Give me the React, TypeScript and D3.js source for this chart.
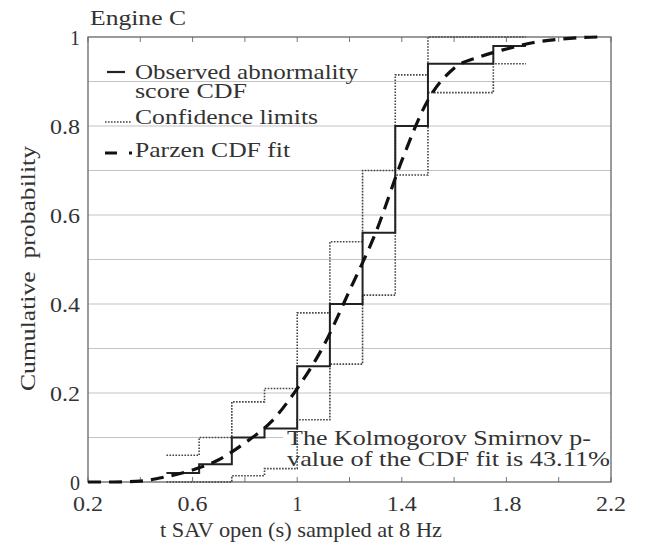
import React from 'react';
import * as d3 from 'd3';

// step edges of the observed CDF (8 Hz sampling)
const stepEdges = [0.5, 0.625, 0.75, 0.875, 1.0, 1.125, 1.25, 1.375, 1.5, 1.75, 1.875];
const observedCdf = [0.02, 0.04, 0.1, 0.12, 0.26, 0.4, 0.56, 0.8, 0.94, 0.98];
const upperLimit = [0.06, 0.1, 0.18, 0.21, 0.38, 0.54, 0.7, 0.915, 1.0, 1.0];
const lowerLimit = [0.0, 0.0, 0.014, 0.03, 0.14, 0.265, 0.42, 0.69, 0.875, 0.94];

// Parzen CDF fit
const parzenX = [0.2, 0.3, 0.4, 0.5, 0.6, 0.7, 0.8, 0.9, 1.0, 1.1, 1.2, 1.3, 1.4, 1.5, 1.6, 1.7, 1.8, 1.9, 2.0, 2.1, 2.15];
const parzenY = [0, 0, 0.002, 0.012, 0.027, 0.05, 0.088, 0.135, 0.21, 0.305, 0.43, 0.56, 0.722, 0.858, 0.93, 0.956, 0.973, 0.987, 0.995, 0.999, 1.0];

const xTicks = [0.2, 0.4, 0.6, 0.8, 1.0, 1.2, 1.4, 1.6, 1.8, 2.0, 2.2];
const xTickLabels = ['0.2', '0.6', '1', '1.4', '1.8', '2.2'];
const yGrid = [0.1, 0.2, 0.3, 0.4, 0.5, 0.6, 0.7, 0.8, 0.9];
const yTickLabels = ['0', '0.2', '0.4', '0.6', '0.8', '1'];

const font = '"Liberation Serif", "Times New Roman", serif';

// the original picture is stretched sideways a little, so long texts get a fixed length
const Txt = ({ w, children, ...rest }) => (
  <text fontSize={22} fill="#333" textLength={w} lengthAdjust="spacingAndGlyphs" {...rest}>
    {children}
  </text>
);

const App = () => {
  const width = 646;
  const height = 545;
  const margin = { top: 37, right: 35, bottom: 63, left: 88 };

  const x = d3.scaleLinear().domain([0.2, 2.2]).range([margin.left, width - margin.right]);
  const y = d3.scaleLinear().domain([0, 1]).range([height - margin.bottom, margin.top]);

  const stairs = (vals) => {
    const pts = vals.map((v, i) => [stepEdges[i], v]);
    pts.push([stepEdges[stepEdges.length - 1], vals[vals.length - 1]]);
    return d3.line().x((d) => x(d[0])).y((d) => y(d[1])).curve(d3.curveStepAfter)(pts);
  };

  const parzen = d3
    .line()
    .x((d) => x(d[0]))
    .y((d) => y(d[1]))
    .curve(d3.curveMonotoneX)(parzenX.map((v, i) => [v, parzenY[i]]));

  const x0 = x.range()[0];
  const x1 = x.range()[1];
  const yb = y(0);
  const yt = y(1);

  return (
    <svg width={width} height={height} style={{ position: 'absolute', left: 0, top: 0, background: '#fff' }} fontFamily={font}>
      {/* grid */}
      {yGrid.map((g) => (
        <line key={g} x1={x0} x2={x1} y1={y(g)} y2={y(g)} stroke="#c4c4c4" strokeWidth={1.2} />
      ))}

      {/* annotation background */}
      <rect x={283} y={y(0.125)} width={x1 - 284} height={y(0.027) - y(0.125)} fill="#fff" />

      {/* ticks */}
      {xTicks.map((t) => (
        <g key={t}>
          <line x1={x(t)} x2={x(t)} y1={yb} y2={yb - 5} stroke="#777" />
          <line x1={x(t)} x2={x(t)} y1={yt} y2={yt + 5} stroke="#777" />
        </g>
      ))}

      {/* frame */}
      <rect x={x0} y={yt} width={x1 - x0} height={yb - yt} fill="none" stroke="#666" strokeWidth={1.3} />

      {/* confidence limits */}
      <path d={stairs(upperLimit)} fill="none" stroke="#444" strokeWidth={1.6} strokeDasharray="1.6,1.4" />
      <path d={stairs(lowerLimit)} fill="none" stroke="#444" strokeWidth={1.6} strokeDasharray="1.6,1.4" />

      {/* observed CDF */}
      <path d={stairs(observedCdf)} fill="none" stroke="#222" strokeWidth={2} />

      {/* Parzen fit */}
      <path d={parzen} fill="none" stroke="#111" strokeWidth={3.2} strokeDasharray="13,8" />

      {/* tick labels */}
      {xTickLabels.map((l) => (
        <Txt key={l} w={l.length === 1 ? 10 : 30} x={x(+l)} y={511} textAnchor="middle">
          {l}
        </Txt>
      ))}
      {yTickLabels.map((l) => (
        <Txt key={l} w={l.length === 1 ? 10 : 30} x={80} y={y(+l)} dy="0.35em" textAnchor="end">
          {l}
        </Txt>
      ))}

      {/* axis titles */}
      <Txt w={282} x={160} y={537}>
        t SAV open (s) sampled at 8 Hz
      </Txt>
      <Txt w={245} transform={`translate(35,${(yt + yb) / 2 + 9}) rotate(-90)`} textAnchor="middle" xmlSpace="preserve">
        Cumulative  probability
      </Txt>
      <Txt w={96} x={90} y={25}>
        Engine C
      </Txt>

      {/* legend */}
      <line x1={107} x2={125} y1={72} y2={72} stroke="#222" strokeWidth={2.2} />
      <Txt w={223} x={135} y={79}>Observed abnormality</Txt>
      <Txt w={112} x={135} y={98}>score CDF</Txt>
      <line x1={105} x2={132} y1={122} y2={122} stroke="#444" strokeWidth={1.6} strokeDasharray="1.6,1.4" />
      <Txt w={183} x={135} y={124}>Confidence limits</Txt>
      <line x1={105} x2={132} y1={153} y2={153} stroke="#111" strokeWidth={3.2} strokeDasharray="12,12" />
      <Txt w={155} x={135} y={157}>Parzen CDF fit</Txt>

      {/* KS annotation */}
      <Txt w={304} x={287} y={445}>The Kolmogorov Smirnov p-</Txt>
      <Txt w={323} x={287} y={466}>value of the CDF fit is 43.11%</Txt>
    </svg>
  );
};

export default App;
